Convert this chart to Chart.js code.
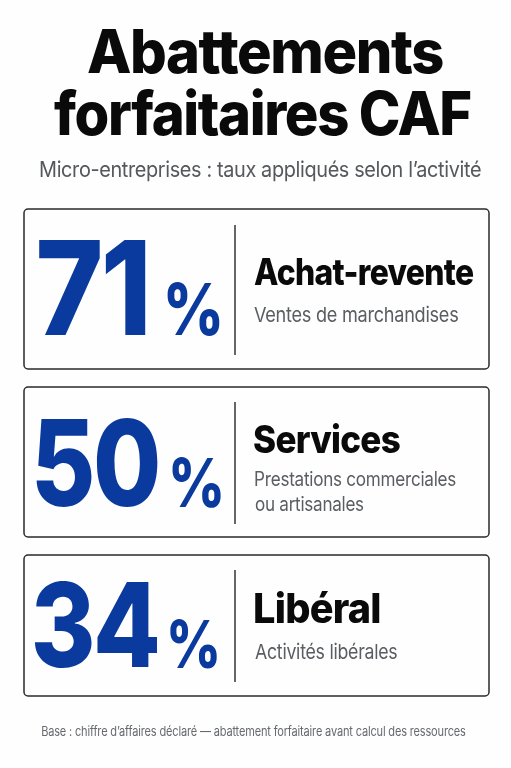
<!DOCTYPE html>
<html lang="fr">
<head>
<meta charset="utf-8">
<title>Abattements forfaitaires CAF</title>
<script src="https://cdn.jsdelivr.net/npm/chart.js@4"></script>
<style>
    html, body { margin: 0; padding: 0; background: #fefefe; }
    #wrap { position: relative; width: 511px; height: 768px; }
</style>
</head>
<body>
<div id="wrap"><canvas id="chart"></canvas></div>
<script>
// Chart data
const categories = ['Achat-revente', 'Services', 'Libéral'];
const rates = [71, 50, 34];
const details = [['Ventes de marchandises'], ['Prestations commerciales', 'ou artisanales'], ['Activités libérales']];
const titleLines = ['Abattements', 'forfaitaires CAF'];
const subtitleText = 'Micro-entreprises : taux appliqués selon l’activité';
const footnoteText = 'Base : chiffre d’affaires déclaré — abattement forfaitaire avant calcul des ressources';

const BLUE = '#0b3a9e';
const FONT = 'Inter, "Liberation Sans", sans-serif';

// Card layout, one entry per category
const cards = [
    { top: 209, bottom: 369, rule: [225, 355], num: [39, 146, 335, 130], pct: [167, 220, 335, 72], name: [254, 473, 285, 37], sub: [254, 458, [322], 20.5] },
    { top: 387, bottom: 537, rule: [402, 524], num: [36, 158, 505.5, 120], pct: [172, 221, 507, 68], name: [254, 400, 453, 38], sub: [255, 456, [486, 511], 19.5] },
    { top: 555, bottom: 696, rule: [570, 682], num: [35, 157, 667, 117], pct: [170, 217, 668, 66], name: [255, 380, 623, 41], sub: [255, 397, [659], 20.5] }
];

// Draws text squeezed or stretched so it fills the width from x0 to x1.
// track is the letter spacing in px, tighter spacing leaves the glyphs wider.
function fitText(ctx, str, x0, x1, y, font, color, track) {
    ctx.save();
    ctx.font = font;
    ctx.letterSpacing = (track || 0) + 'px';
    ctx.textRendering = 'optimizeSpeed'; // no tt ligature from Inter
    ctx.fillStyle = color;
    ctx.textAlign = 'left';
    ctx.textBaseline = 'alphabetic';
    const m = ctx.measureText(str);
    const w = m.actualBoundingBoxRight + m.actualBoundingBoxLeft;
    ctx.translate(x0, y);
    ctx.scale((x1 - x0) / w, 1);
    ctx.fillText(str, m.actualBoundingBoxLeft, 0);
    ctx.restore();
}

const infographic = {
    id: 'infographic',
    afterDraw(chart) {
        const ctx = chart.ctx;

        fitText(ctx, titleLines[0], 88, 443, 73, '800 60px ' + FONT, '#0a0a0a', -1.5);
        fitText(ctx, titleLines[1], 54, 471, 135, '800 60px ' + FONT, '#0a0a0a', -1.5);
        fitText(ctx, subtitleText, 40, 481, 177, '400 21.5px ' + FONT, '#55585c', -0.4);

        cards.forEach(function(card, i) {
            ctx.strokeStyle = '#2a2a2a';
            ctx.lineWidth = 1.5;
            ctx.beginPath();
            ctx.roundRect(24, card.top, 465, card.bottom - card.top, 4);
            ctx.stroke();

            ctx.strokeStyle = '#333';
            ctx.lineWidth = 1.5;
            ctx.beginPath();
            ctx.moveTo(235, card.rule[0]);
            ctx.lineTo(235, card.rule[1]);
            ctx.stroke();

            fitText(ctx, String(rates[i]), card.num[0], card.num[1], card.num[2], '800 ' + card.num[3] + 'px ' + FONT, BLUE, -3);
            fitText(ctx, '%', card.pct[0], card.pct[1], card.pct[2], '800 ' + card.pct[3] + 'px ' + FONT, BLUE);
            fitText(ctx, categories[i], card.name[0], card.name[1], card.name[2], '800 ' + card.name[3] + 'px ' + FONT, '#0a0a0a', -0.8);

            // The longest line sets the right edge, the other one keeps the same stretch
            ctx.font = '400 ' + card.sub[3] + 'px ' + FONT;
            const stretch = (card.sub[1] - card.sub[0]) / ctx.measureText(details[i][0]).width;
            details[i].forEach(function(line, j) {
                const x1 = card.sub[0] + ctx.measureText(line).width * stretch;
                fitText(ctx, line, card.sub[0], x1, card.sub[2][j], '400 ' + card.sub[3] + 'px ' + FONT, '#5a5d61', -0.3);
            });
        });

        fitText(ctx, footnoteText, 42, 466, 736, '400 13px ' + FONT, '#66696d', -0.2);
    }
};

// The rates have no visible bars in this figure, they only feed the big numbers
new Chart(document.getElementById('chart').getContext('2d'), {
    type: 'bar',
    data: {
        labels: categories,
        datasets: [{
            label: 'Abattement (%)',
            data: rates,
            backgroundColor: 'transparent'
        }]
    },
    options: {
        indexAxis: 'y',
        responsive: true,
        maintainAspectRatio: false,
        animation: false,
        events: [],
        plugins: {
            legend: { display: false },
            tooltip: { enabled: false }
        },
        scales: {
            x: { display: false, min: 0, max: 100 },
            y: { display: false }
        }
    },
    plugins: [infographic]
});
</script>
</body>
</html>
